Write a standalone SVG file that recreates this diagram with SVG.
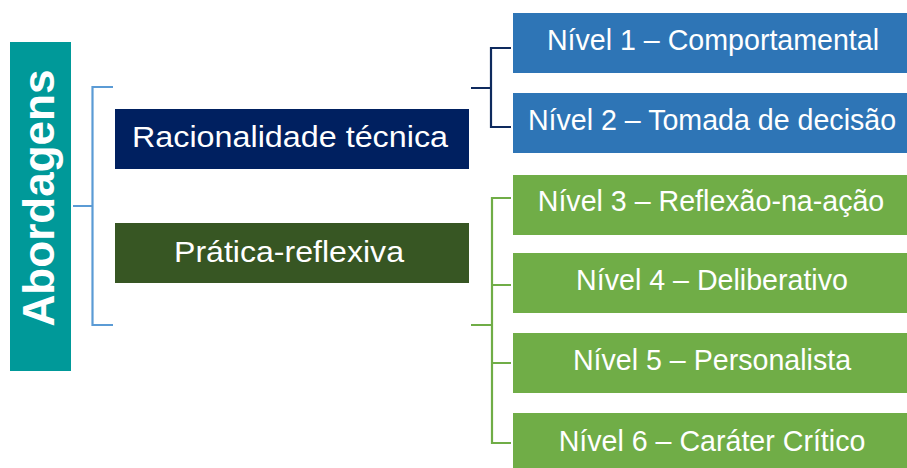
<svg xmlns="http://www.w3.org/2000/svg" width="907" height="468" viewBox="0 0 907 468">
<style>
.t{font-family:"Liberation Sans",Arial,sans-serif;fill:#fff;text-anchor:middle}
.mid{font-size:30px}
.lvl{font-size:28.6px}
.c{fill:none;stroke-width:2.2}
</style>
<rect width="907" height="468" fill="#fff"/>
<g id="connectors">
<path class="c" stroke="#5B9BD5" d="M113 87H92.5V325H113M73 206H92.5"/>
<path class="c" stroke="#0E2A5E" d="M511 48H491V127H511M471 88H491"/>
<path class="c" stroke="#70AD47" d="M511 198H492V443H511M492 285H511M492 363H511M471 325H492"/>
</g>
<g id="abordagens">
<rect x="10" y="42" width="61" height="329" fill="#009999"/>
<text class="t" transform="translate(54 198) rotate(-90)" font-size="44" font-weight="bold" textLength="257" lengthAdjust="spacingAndGlyphs">Abordagens</text>
</g>
<g id="racionalidade">
<rect x="115" y="109" width="354" height="60" fill="#002060"/>
<text class="t mid" x="290" y="147" textLength="316" lengthAdjust="spacingAndGlyphs">Racionalidade técnica</text>
</g>
<g id="pratica">
<rect x="115" y="223" width="354" height="60" fill="#375623"/>
<text class="t mid" x="289" y="262" textLength="230" lengthAdjust="spacingAndGlyphs">Prática-reflexiva</text>
</g>
<g id="nivel1">
<rect x="513" y="13" width="394" height="60" fill="#2E75B6"/>
<text class="t lvl" x="713" y="50">Nível 1 – Comportamental</text>
</g>
<g id="nivel2">
<rect x="513" y="93" width="394" height="60" fill="#2E75B6"/>
<text class="t lvl" x="712" y="130">Nível 2 – Tomada de decisão</text>
</g>
<g id="nivel3">
<rect x="513" y="175" width="394" height="60" fill="#70AD47"/>
<text class="t lvl" x="711" y="211">Nível 3 – Reflexão-na-ação</text>
</g>
<g id="nivel4">
<rect x="513" y="253" width="394" height="60" fill="#70AD47"/>
<text class="t lvl" x="712" y="290">Nível 4 – Deliberativo</text>
</g>
<g id="nivel5">
<rect x="513" y="333" width="394" height="60" fill="#70AD47"/>
<text class="t lvl" x="712" y="370">Nível 5 – Personalista</text>
</g>
<g id="nivel6">
<rect x="513" y="413" width="394" height="60" fill="#70AD47"/>
<text class="t lvl" x="712" y="451">Nível 6 – Caráter Crítico</text>
</g>
</svg>
